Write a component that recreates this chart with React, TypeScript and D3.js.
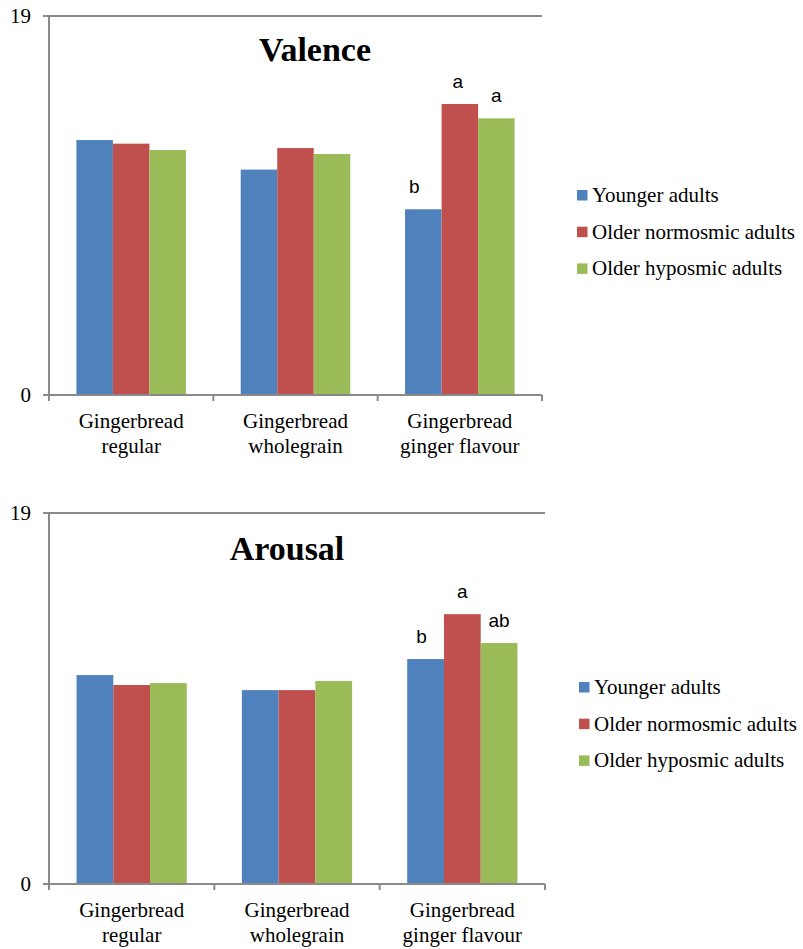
import React from "react";
import * as d3 from "d3";

const categories = ["Gingerbread regular", "Gingerbread wholegrain", "Gingerbread ginger flavour"];
const categoryLines = [["Gingerbread", "regular"], ["Gingerbread", "wholegrain"], ["Gingerbread", "ginger flavour"]];
const seriesNames = ["Younger adults", "Older normosmic adults", "Older hyposmic adults"];
const seriesColors = ["#4F81BD", "#C0504D", "#9BBB59"];

// Valence scores per group, one value per product
const valenceYounger = [12.78, 11.3, 9.31];
const valenceNormosmic = [12.6, 12.38, 14.59];
const valenceHyposmic = [12.28, 12.08, 13.87];
// Significance letters for the ginger-flavoured product
const valenceLetters = ["b", "a", "a"];

// Arousal scores per group
const arousalYounger = [10.7, 9.93, 11.52];
const arousalNormosmic = [10.19, 9.93, 13.82];
const arousalHyposmic = [10.29, 10.4, 12.34];
const arousalLetters = ["b", "a", "ab"];

const yTicks = [0, 19];

type PanelProps = {
  title: string;
  titleX: number;
  titleY: number;
  series: number[][];
  letters: string[];
  letterDx: number[];
  top: number;
  bottom: number;
  left: number;
  right: number;
  legendTop: number;
  legendX: number;
};

const serif = { fontFamily: "Liberation Serif" };
const sans = { fontFamily: "Liberation Sans" };
const axisColor = "#8a8a8a";

function Panel(p: PanelProps) {
  const y = d3.scaleLinear().domain([0, 19]).range([p.bottom, p.top]);
  const x0 = d3.scaleBand<string>().domain(categories).range([p.left, p.right]).padding(0);
  const x1 = d3
    .scaleBand<string>()
    .domain(seriesNames)
    .range([0, x0.bandwidth()])
    .paddingInner(0)
    .paddingOuter(0.75);
  const boundaries = [p.left, ...categories.map((c) => (x0(c) as number) + x0.bandwidth())];

  return (
    <g>
      {/* bars */}
      {categories.map((c, ci) => (
        <g key={c}>
          {seriesNames.map((s, si) => {
            const v = p.series[si][ci];
            const bx = (x0(c) as number) + (x1(s) as number);
            return (
              <rect
                key={s}
                x={bx}
                y={y(v)}
                width={x1.bandwidth()}
                height={y(0) - y(v)}
                fill={seriesColors[si]}
              />
            );
          })}
        </g>
      ))}
      {/* significance letters over the last product */}
      {seriesNames.map((s, si) => {
        const c = categories[2];
        const v = p.series[si][2];
        const cx = (x0(c) as number) + (x1(s) as number) + x1.bandwidth() / 2 + p.letterDx[si];
        return (
          <text
            key={s}
            x={cx}
            y={y(v) - 16}
            textAnchor="middle"
            style={sans}
            fontSize={19}
            fill="#000"
          >
            {p.letters[si]}
          </text>
        );
      })}
      {/* axes */}
      <line x1={p.left - 6} x2={p.right} y1={y(19)} y2={y(19)} stroke={axisColor} strokeWidth={2} />
      <line x1={p.left} x2={p.left} y1={y(19)} y2={y(0)} stroke={axisColor} strokeWidth={2} />
      <line x1={p.left - 6} x2={p.right} y1={y(0)} y2={y(0)} stroke={axisColor} strokeWidth={2} />
      {boundaries.map((b, i) => (
        <line key={i} x1={b} x2={b} y1={y(0)} y2={y(0) + 6} stroke={axisColor} strokeWidth={2} />
      ))}
      {yTicks.map((t) => (
        <text
          key={t}
          x={p.left - 18}
          y={y(t) + 7}
          textAnchor="end"
          style={serif}
          fontSize={21}
          fill="#000"
        >
          {t}
        </text>
      ))}
      {categories.map((c, ci) => (
        <text
          key={c}
          x={(x0(c) as number) + x0.bandwidth() / 2}
          y={y(0) + 33}
          textAnchor="middle"
          style={serif}
          fontSize={21}
          fill="#000"
        >
          {categoryLines[ci].map((l, li) => (
            <tspan key={li} x={(x0(c) as number) + x0.bandwidth() / 2} dy={li === 0 ? 0 : 25}>
              {l}
            </tspan>
          ))}
        </text>
      ))}
      <text
        x={p.titleX}
        y={p.titleY}
        textAnchor="middle"
        style={serif}
        fontWeight="bold"
        fontSize={34}
        fill="#000"
      >
        {p.title}
      </text>
      {/* legend */}
      {seriesNames.map((s, si) => (
        <g key={s} transform={`translate(${p.legendX},${p.legendTop + si * 36.7})`}>
          <rect x={0} y={-5} width={10.5} height={10.5} fill={seriesColors[si]} />
          <text x={15} y={7} style={serif} fontSize={21} fill="#000">
            {s}
          </text>
        </g>
      ))}
    </g>
  );
}

export default function App() {
  return (
    <svg
      width={803}
      height={949}
      style={{ position: "absolute", left: 0, top: 0, background: "#fff" }}
    >
      <rect width={803} height={949} fill="#fff" />
      <Panel
        title="Valence"
        titleX={315}
        titleY={61}
        series={[valenceYounger, valenceNormosmic, valenceHyposmic]}
        letters={valenceLetters}
        letterDx={[-9, -2, 0]}
        top={16}
        bottom={395}
        left={49}
        right={542}
        legendTop={195}
        legendX={577}
      />
      <Panel
        title="Arousal"
        titleX={287}
        titleY={560}
        series={[arousalYounger, arousalNormosmic, arousalHyposmic]}
        letters={arousalLetters}
        letterDx={[-4, 0, 0]}
        top={513}
        bottom={884}
        left={49}
        right={545}
        legendTop={687}
        legendX={579}
      />
    </svg>
  );
}
